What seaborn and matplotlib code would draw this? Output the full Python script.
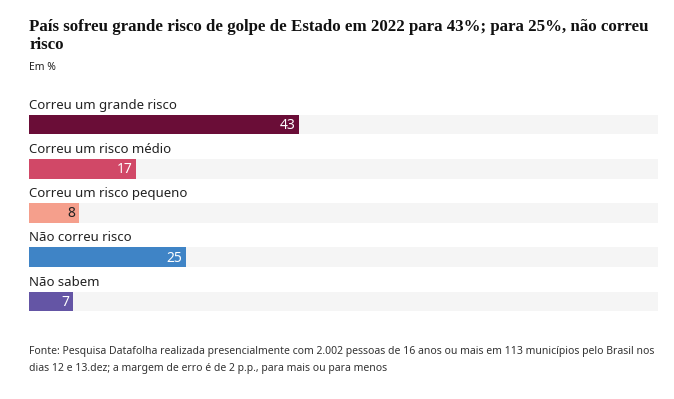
import matplotlib
matplotlib.use("Agg")
import matplotlib.pyplot as plt
import seaborn as sns
import pandas as pd

categories = ["Correu um grande risco", "Correu um risco médio", "Correu um risco pequeno",
              "Não correu risco", "Não sabem"]
values = [43, 17, 8, 25, 7]
colors = ["#6a0d37", "#d14867", "#f59f8c", "#3f84c6", "#6455a5"]
label_colors = ["white", "white", "#222222", "white", "white"]

title = "País sofreu grande risco de golpe de Estado em 2022 para 43%; para 25%, não correu\nrisco"
subtitle = "Em %"
source = ("Fonte: Pesquisa Datafolha realizada presencialmente com 2.002 pessoas de 16 anos ou mais em 113 municípios pelo Brasil nos\n"
          "dias 12 e 13.dez; a margem de erro é de 2 p.p., para mais ou para menos")

df = pd.DataFrame({"cat": categories, "val": values, "full": [100] * len(values)})

sns.set_style("white")
plt.rcParams["font.family"] = ["Noto Sans", "DejaVu Sans"]

fig = plt.figure(figsize=(6.74, 3.99), dpi=100)
ax = fig.add_axes((29 / 674, 1 - 323.6 / 399, 629 / 674, 221.2 / 399))

# grey track behind each bar, then the values on top
sns.barplot(data=df, x="full", y="cat", orient="h", color="#f5f5f5", width=0.45,
            saturation=1, linewidth=0, ax=ax)
sns.barplot(data=df, x="val", y="cat", hue="cat", palette=colors, orient="h",
            width=0.45, saturation=1, linewidth=0, legend=False, ax=ax)

ax.set_xlim(0, 100)
ax.set_ylim(4.5, -0.5)
ax.axis("off")

for i, (cat, v) in enumerate(zip(categories, values)):
    ax.text(0, i - 0.44, cat, ha="left", va="center", fontsize=9.5, color="#222222")
    ax.text(v - 0.6, i + 0.02, str(v), ha="right", va="center", fontsize=10,
            color=label_colors[i], fontweight="semibold")

fig.text(29 / 674, 1 - 19 / 399, title, ha="left", va="top", fontsize=12.2,
         fontweight="bold", family="Liberation Serif", color="#111111", linespacing=1.2)
fig.text(29 / 674, 1 - 67 / 399, subtitle, ha="left", va="center", fontsize=7.5,
         fontweight="bold", color="#222222")
fig.text(29 / 674, 1 - 346 / 399, source, ha="left", va="top", fontsize=7.5,
         color="#333333", linespacing=1.75)

fig.savefig("out.png", dpi=100)
